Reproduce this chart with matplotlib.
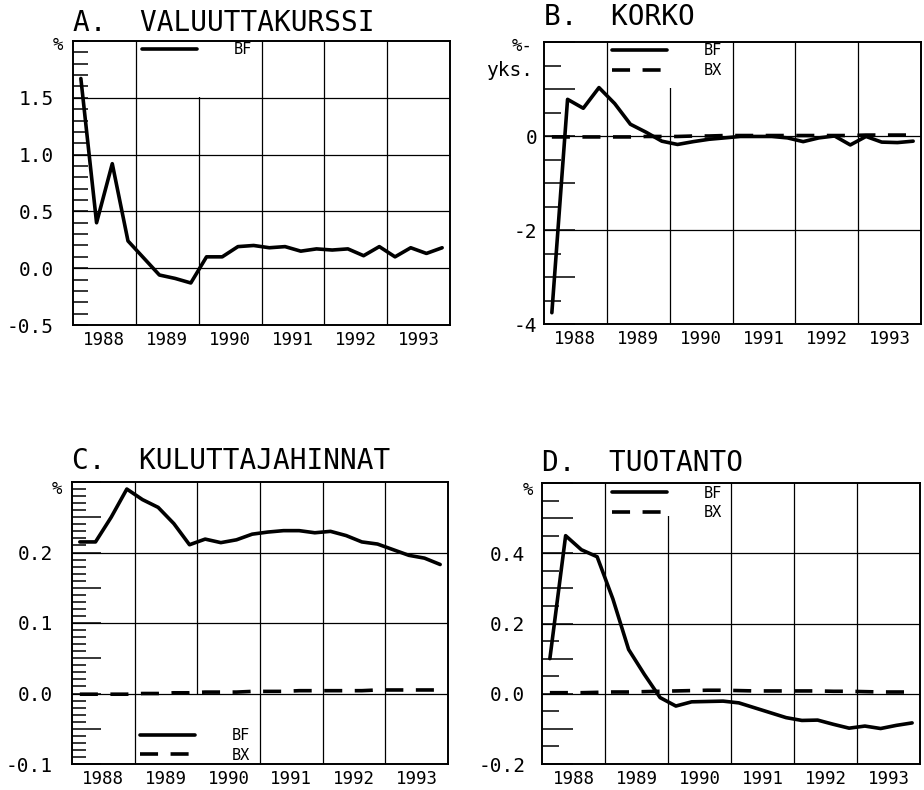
import numpy as np
import matplotlib
matplotlib.use('Agg')
import matplotlib.pyplot as plt
from matplotlib.ticker import MultipleLocator, FuncFormatter
from matplotlib.patches import Rectangle
import matplotlib.transforms as mtransforms

plt.rcParams['font.family'] = ['DejaVu Sans Mono', 'DejaVu Sans']
plt.rcParams['axes.unicode_minus'] = False
plt.rcParams['lines.scale_dashes'] = False

# ---------------- data (quarterly, 1988Q1 .. 1993Q4) ----------------
years = [1988, 1989, 1990, 1991, 1992, 1993]
year_labels = ['1988', '1989', '1990', '1991', '1992', '1993']
series_labels = ['BF', 'BX']

a_bf = [1.67, 0.40, 0.92, 0.24, 0.09, -0.06, -0.09, -0.13,
        0.10, 0.10, 0.19, 0.20, 0.18, 0.19, 0.15, 0.17,
        0.16, 0.17, 0.11, 0.19, 0.10, 0.18, 0.13, 0.18]

b_bf = [-3.76, 0.78, 0.59, 1.03, 0.69, 0.25, 0.08, -0.11,
        -0.18, -0.12, -0.07, -0.04, -0.01, -0.01, -0.01, -0.04,
        -0.12, -0.04, 0.00, -0.19, -0.01, -0.13, -0.14, -0.11]
b_bx = [-0.02, -0.02, -0.02, -0.02, -0.02, -0.02, -0.01, -0.01,
        -0.01, 0.00, 0.00, 0.01, 0.01, 0.01, 0.01, 0.01,
        0.01, 0.01, 0.01, 0.01, 0.02, 0.02, 0.02, 0.02]

c_bf = [0.215, 0.215, 0.250, 0.290, 0.275, 0.264, 0.241, 0.211,
        0.219, 0.214, 0.218, 0.226, 0.229, 0.231, 0.231, 0.228,
        0.230, 0.224, 0.215, 0.212, 0.204, 0.196, 0.192, 0.183]
c_bx = [-0.001, -0.001, -0.001, -0.001, 0.000, 0.000, 0.001, 0.001,
        0.002, 0.002, 0.002, 0.003, 0.003, 0.003, 0.004, 0.004,
        0.004, 0.004, 0.004, 0.005, 0.005, 0.005, 0.005, 0.005]

d_bf = [0.10, 0.45, 0.41, 0.39, 0.27, 0.126, 0.055, -0.011,
        -0.035, -0.023, -0.022, -0.021, -0.026, -0.040, -0.054, -0.068,
        -0.076, -0.075, -0.087, -0.098, -0.092, -0.099, -0.090, -0.083]
d_bx = [0.003, 0.003, 0.003, 0.004, 0.005, 0.005, 0.006, 0.007,
        0.008, 0.009, 0.010, 0.010, 0.009, 0.008, 0.008, 0.008,
        0.008, 0.008, 0.007, 0.007, 0.006, 0.005, 0.005, 0.005]

# x positions: middle of each quarter
x = np.array([y + (q + 0.5) / 4.0 for y in years for q in range(4)])

W, H = 924, 790
fig = plt.figure(figsize=(W / 100, H / 100), dpi=100)


def px_rect(left, top, right, bottom):
    return [left / W, 1 - bottom / H, (right - left) / W, (bottom - top) / H]


panels = [
    dict(rect=px_rect(73, 41, 450, 325), title='A.  VALUUTTAKURSSI', title_y=1.035,
         ylim=(-0.5, 2.0), grid=[-0.5, 0.0, 0.5, 1.0, 1.5], fmt='%.1f',
         major=0.5, minor=0.1, Lmaj=11, Lmin=11, pad=14,
         bf=a_bf, bx=None, unit=['%'], unit_y=[0.986], unit_x=-0.027,
         box=(1989.04, 1990.95, 0.80), leg=dict(loc='upper left', anchor=(0.183, 0.995))),
    dict(rect=px_rect(544, 42, 921, 324), title='B.  KORKO', title_y=1.062,
         ylim=(-4, 2), grid=[-4, -2, 0], fmt='%d',
         major=1.0, minor=0.5, Lmaj=22, Lmin=12, pad=5,
         bf=b_bf, bx=b_bx, unit=['%-', 'yks.'], unit_y=[0.986, 0.90], unit_x=-0.029,
         box=(1989.05, 1990.92, 0.833), leg=dict(loc='upper left', anchor=(0.180, 0.995))),
    dict(rect=px_rect(72, 482, 448, 764), title='C.  KULUTTAJAHINNAT', title_y=1.046,
         ylim=(-0.1, 0.3), grid=[-0.1, 0.0, 0.1, 0.2], fmt='%.1f',
         major=0.05, minor=0.01, Lmaj=21, Lmin=10, pad=14,
         bf=c_bf, bx=c_bx, unit=['%'], unit_y=[0.975], unit_x=-0.027,
         box=(1989.05, 1990.92, -0.245), leg=dict(loc='lower left', anchor=(0.181, 0.005))),
    dict(rect=px_rect(542, 483, 920, 764), title='D.  TUOTANTO', title_y=1.043,
         ylim=(-0.2, 0.6), grid=[-0.2, 0.0, 0.2, 0.4], fmt='%.1f',
         major=0.1, minor=0.05, Lmaj=22, Lmin=12, pad=12,
         bf=d_bf, bx=d_bx, unit=['%'], unit_y=[0.975], unit_x=-0.024,
         box=(1989.04, 1990.92, 0.877), leg=dict(loc='upper left', anchor=(0.185, 0.99))),
]

for p in panels:
    ax = fig.add_axes(p['rect'])
    ax.set_xlim(years[0], years[-1] + 1)
    ax.set_ylim(*p['ylim'])

    # vertical grid at year boundaries
    for yv in years[1:]:
        ax.axvline(yv, color='black', lw=0.9, zorder=1)
    # horizontal grid at labelled values
    for g in p['grid']:
        ax.axhline(g, color='black', lw=0.9, zorder=2)

    # white background behind the legend (hides a grid line like the original)
    bx0, bx1, by = p['box']
    trans = mtransforms.blended_transform_factory(ax.transData, ax.transAxes)
    if by >= 0:
        rect = Rectangle((bx0, by + 0.004), bx1 - bx0, 1 - by - 0.004, transform=trans,
                         facecolor='white', edgecolor='none', zorder=1.5)
    else:
        rect = Rectangle((bx0, 0.0), bx1 - bx0, -by, transform=trans,
                         facecolor='white', edgecolor='none', zorder=1.5)
    ax.add_patch(rect)

    handles = []
    l1, = ax.plot(x, p['bf'], color='black', lw=2.6, solid_joinstyle='round',
                  solid_capstyle='round', zorder=4)
    handles.append(l1)
    if p['bx'] is not None:
        l2, = ax.plot(x, p['bx'], color='black', lw=2.6, dashes=(13, 9), zorder=3)
        handles.append(l2)

    leg = ax.legend(handles, series_labels[:len(handles)], loc=p['leg']['loc'],
                    bbox_to_anchor=p['leg']['anchor'], frameon=False, borderpad=0,
                    borderaxespad=0, handlelength=3.6, handletextpad=2.4,
                    labelspacing=0.3, fontsize=11)
    leg.set_zorder(5)

    # x axis: year labels centred in each year
    ax.set_xticks([y + 0.5 for y in years])
    ax.set_xticklabels(year_labels)
    ax.tick_params(axis='x', length=0, pad=4, labelsize=12.5)

    # y axis ticks
    ax.yaxis.set_major_locator(MultipleLocator(p['major']))
    ax.yaxis.set_minor_locator(MultipleLocator(p['minor']))
    gvals = p['grid']
    fmt = p['fmt']

    def make_fmt(gvals, fmt):
        def f(v, pos):
            for g in gvals:
                if abs(v - g) < 1e-9:
                    return fmt % g
            return ''
        return f

    ax.yaxis.set_major_formatter(FuncFormatter(make_fmt(gvals, fmt)))
    ax.tick_params(axis='y', which='major', direction='in', length=p['Lmaj'], width=1.1,
                   left=True, right=False, pad=p['pad'], labelsize=14)
    ax.tick_params(axis='y', which='minor', direction='in', length=p['Lmin'], width=1.1,
                   left=True, right=False)

    for s in ax.spines.values():
        s.set_linewidth(1.4)
        s.set_zorder(6)

    # unit label(s)
    for txt, yy in zip(p['unit'], p['unit_y']):
        ax.text(p['unit_x'], yy, txt, transform=ax.transAxes, ha='right', va='center',
                fontsize=14 if txt == 'yks.' else 12.5)

    # panel title
    ax.text(0.0, p['title_y'], p['title'], transform=ax.transAxes, ha='left',
            va='baseline', fontsize=20)

fig.savefig('out.png', dpi=100)
